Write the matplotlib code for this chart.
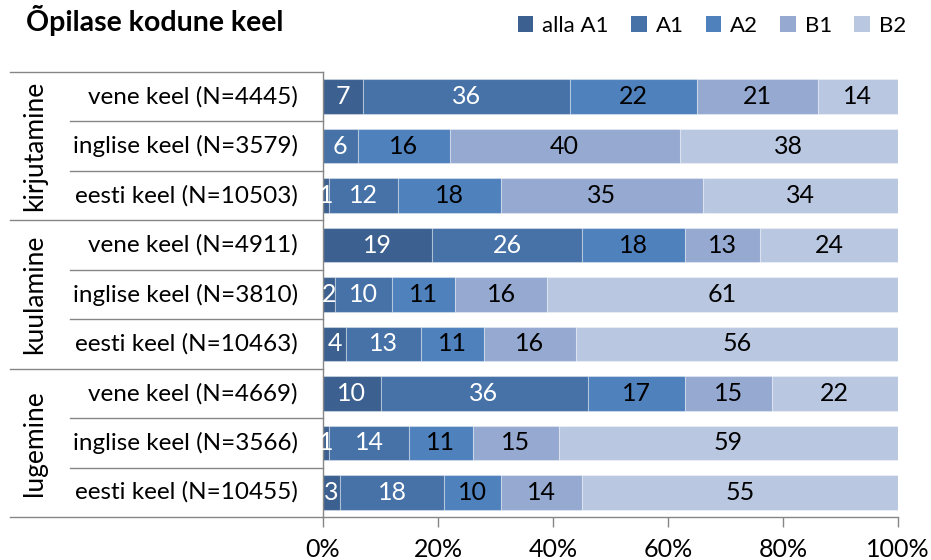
import matplotlib
matplotlib.use("Agg")
import matplotlib.pyplot as plt
from matplotlib.patches import Patch
import numpy as np

plt.rcParams['font.family'] = ['Lato', 'DejaVu Sans']

title = "Õpilase kodune keel"
levels = ["alla A1", "A1", "A2", "B1", "B2"]
groups = ["kirjutamine", "kuulamine", "lugemine"]
row_labels = [
    "vene keel (N=4445)", "inglise keel (N=3579)", "eesti keel (N=10503)",
    "vene keel (N=4911)", "inglise keel (N=3810)", "eesti keel (N=10463)",
    "vene keel (N=4669)", "inglise keel (N=3566)", "eesti keel (N=10455)",
]
alla_a1 = [7, 0, 1, 19, 2, 4, 10, 1, 3]
a1 = [36, 6, 12, 26, 10, 13, 36, 14, 18]
a2 = [22, 16, 18, 18, 11, 11, 17, 11, 10]
b1 = [21, 40, 35, 13, 16, 16, 15, 15, 14]
b2 = [14, 38, 34, 24, 61, 56, 22, 59, 55]

series = [alla_a1, a1, a2, b1, b2]
colors = ["#3C6190", "#4672A8", "#4F81BD", "#95A9D1", "#B9C7E1"]
text_colors = ["white", "white", "black", "black", "black"]

fig = plt.figure(figsize=(9.31, 5.6), dpi=100)
ax = fig.add_axes([323 / 931, 1 - 517 / 560, 575 / 931, 445 / 560])

y = np.arange(len(row_labels))
left = np.zeros(len(row_labels))
fs = 18
for vals, col, tc in zip(series, colors, text_colors):
    vals = np.array(vals, dtype=float)
    ax.barh(y, vals, left=left, height=0.7, color=col,
            edgecolor=(1, 1, 1, 0.35), linewidth=0.8)
    for yi, (l, v) in enumerate(zip(left, vals)):
        if v > 0:
            ax.text(l + v / 2, yi, f"{int(v)}", ha="center", va="center",
                    color=tc, fontsize=fs)
    left += vals

ax.set_xlim(0, 100)
ax.set_ylim(len(row_labels) - 0.5, -0.5)
ax.set_xticks(np.arange(0, 101, 20))
ax.set_xticklabels([f"{t}%" for t in range(0, 101, 20)], fontsize=fs)
ax.tick_params(axis="x", direction="out", length=7, color="#868686",
               width=1, pad=8)
ax.set_yticks([])
for s in ["top", "right"]:
    ax.spines[s].set_visible(False)
for s in ["left", "bottom"]:
    ax.spines[s].set_color("#868686")
    ax.spines[s].set_linewidth(1)

# category table on the left
tr = ax.get_yaxis_transform()
line_kw = dict(color="#868686", linewidth=1, clip_on=False, transform=tr)
for b in [-0.5, 2.5, 5.5, 8.5]:
    ax.plot([-0.544, 0], [b, b], **line_kw)
for b in [0.5, 1.5, 3.5, 4.5, 6.5, 7.5]:
    ax.plot([-0.44, 0], [b, b], **line_kw)

for yi, lab in enumerate(row_labels):
    ax.text(-0.044, yi, lab, transform=tr, ha="right", va="center",
            fontsize=17.5)
for gi, g in enumerate(groups):
    ax.text(-0.502, gi * 3 + 1, g, transform=tr, ha="center", va="center",
            rotation=90, fontsize=19)

fig.text(26 / 931, 1 - 20 / 560, title, fontsize=20.5, fontweight="bold",
         ha="left", va="center")

handles = [Patch(facecolor=c, edgecolor="none") for c in colors]
fig.legend(handles, levels, loc="center right", ncol=5, frameon=False,
           bbox_to_anchor=(926 / 931, 1 - 26 / 560), fontsize=16,
           handlelength=0.7, handleheight=0.7, handletextpad=0.4,
           columnspacing=1.0)

fig.savefig("out.png", dpi=100)
